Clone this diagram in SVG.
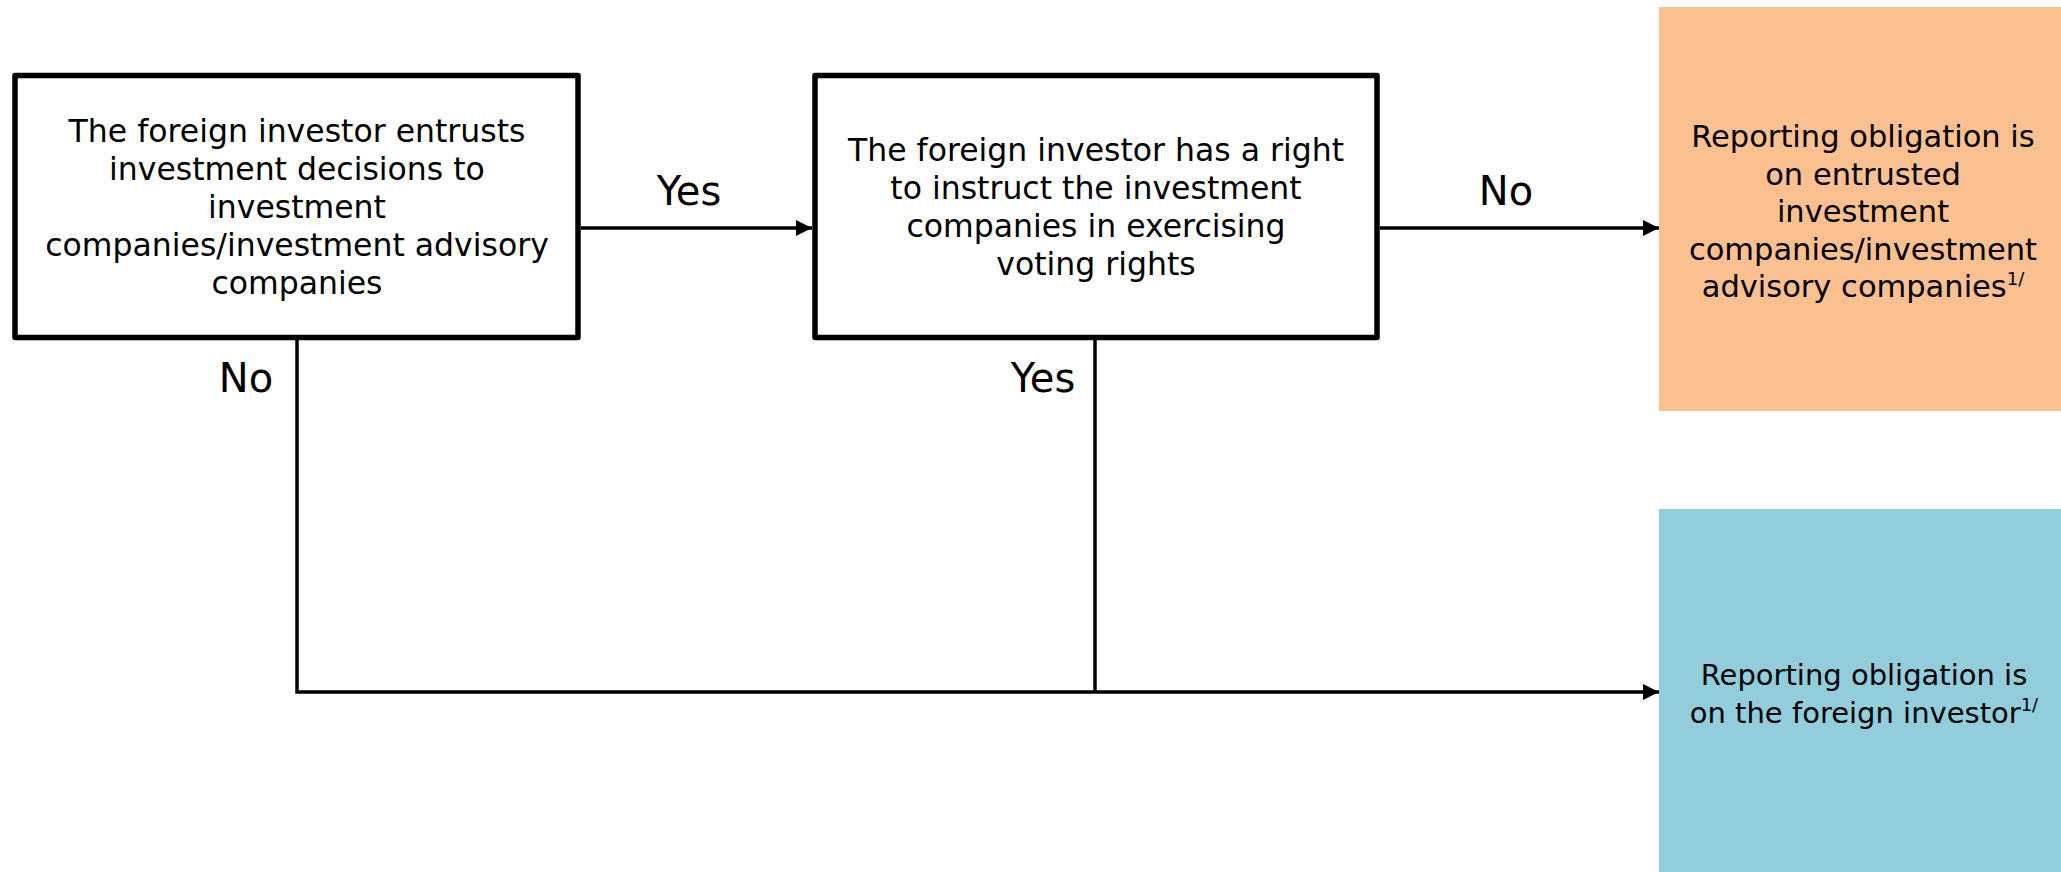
<svg xmlns="http://www.w3.org/2000/svg" width="2061" height="872" viewBox="0 0 2061 872">
<style>
.box{fill:#fff;stroke:#000;stroke-width:5.5;stroke-linejoin:round}
.t{font-family:"DejaVu Sans",Verdana,sans-serif;font-size:31.5px;fill:#000;text-anchor:middle}
.r{font-family:"DejaVu Sans",Verdana,sans-serif;font-size:30.5px;fill:#000;text-anchor:middle}
.lbl{font-family:"DejaVu Sans",Verdana,sans-serif;font-size:40px;fill:#000;text-anchor:middle}
.sup{font-size:18px}
.ln{fill:none;stroke:#000;stroke-width:3.5}
</style>
<defs>
<marker id="ah" markerUnits="userSpaceOnUse" markerWidth="16" markerHeight="16" refX="16" refY="8" orient="auto">
<path d="M0,0 L16,8 L0,16 z" fill="#000"/>
</marker>
</defs>
<rect width="2061" height="872" fill="#fff"/>
<g id="connectors">
<line class="ln" x1="581" y1="228" x2="812" y2="228" marker-end="url(#ah)"/>
<line class="ln" x1="1380" y1="228" x2="1659" y2="228" marker-end="url(#ah)"/>
<polyline class="ln" points="297,340 297,692 1659,692" marker-end="url(#ah)"/>
<line class="ln" x1="1095" y1="340" x2="1095" y2="692"/>
<text class="lbl" x="689" y="205">Yes</text>
<text class="lbl" x="1506" y="205">No</text>
<text class="lbl" x="246" y="392">No</text>
<text class="lbl" x="1043" y="392">Yes</text>
</g>
<g id="node1">
<rect class="box" x="15" y="75.5" width="563" height="262"/>
<text class="t" x="297" y="142">The foreign investor entrusts</text>
<text class="t" x="297" y="180">investment decisions to</text>
<text class="t" x="297" y="218">investment</text>
<text class="t" x="297" y="256">companies/investment advisory</text>
<text class="t" x="297" y="294">companies</text>
</g>
<g id="node2">
<rect class="box" x="815" y="75.5" width="562" height="262"/>
<text class="t" x="1096" y="161">The foreign investor has a right</text>
<text class="t" x="1096" y="199">to instruct the investment</text>
<text class="t" x="1096" y="237">companies in exercising</text>
<text class="t" x="1096" y="275">voting rights</text>
</g>
<g id="node3">
<rect x="1659" y="7" width="402" height="404" fill="#FAC090"/>
<text class="r" x="1863" y="147">Reporting obligation is</text>
<text class="r" x="1863" y="185">on entrusted</text>
<text class="r" x="1863" y="222">investment</text>
<text class="r" x="1863" y="260">companies/investment</text>
<text class="r" x="1863" y="297">advisory companies<tspan class="sup" dy="-12">1/</tspan></text>
</g>
<g id="node4">
<rect x="1659" y="509" width="402" height="363" fill="#92CDDC"/>
<text class="r" x="1864" y="685" style="font-size:29px">Reporting obligation is</text>
<text class="r" x="1864" y="723" style="font-size:29px">on the foreign investor<tspan class="sup" dy="-12">1/</tspan></text>
</g>
</svg>
